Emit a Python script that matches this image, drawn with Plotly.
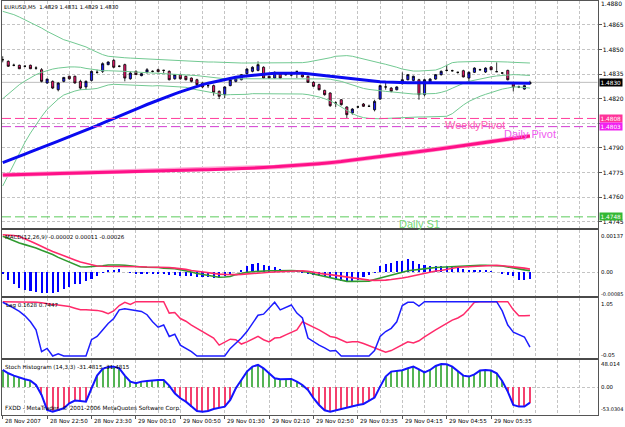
import plotly.graph_objects as go

W, H = 625, 427

# ---------------- data ----------------
time_labels = ["28 Nov 2007", "28 Nov 22:50", "28 Nov 23:30", "29 Nov 00:10", "29 Nov 00:50",
               "29 Nov 01:30", "29 Nov 02:10", "29 Nov 02:50", "29 Nov 03:35", "29 Nov 04:15",
               "29 Nov 04:55", "29 Nov 05:35"]
time_label_bars = [0, 8, 16, 24, 32, 40, 48, 56, 64, 72, 80, 88]

open_ = [1.48438, 1.48428, 1.48404, 1.48404, 1.48398, 1.48404, 1.48387, 1.48377, 1.48296, 1.48306,
         1.48255, 1.48306, 1.48337, 1.48337, 1.48306, 1.48272, 1.48312, 1.48361, 1.48367, 1.48408,
         1.48434, 1.48398, 1.48408, 1.48322, 1.48367, 1.48341, 1.48363, 1.48367, 1.48377, 1.48373,
         1.48367, 1.48322, 1.48347, 1.48337, 1.48326, 1.48316, 1.48296, 1.48280, 1.48280, 1.48245,
         1.48225, 1.48280, 1.48306, 1.48316, 1.48353, 1.48367, 1.48373, 1.48392, 1.48337, 1.48326,
         1.48351, 1.48347, 1.48345, 1.48367, 1.48347, 1.48337, 1.48300, 1.48286, 1.48251, 1.48235,
         1.48174, 1.48194, 1.48150, 1.48113, 1.48150, 1.48168, 1.48154, 1.48133, 1.48198, 1.48272,
         1.48265, 1.48255, 1.48292, 1.48316, 1.48312, 1.48316, 1.48225, 1.48296, 1.48320, 1.48347,
         1.48373, 1.48371, 1.48361, 1.48371, 1.48326, 1.48361, 1.48377, 1.48363, 1.48394, 1.48365,
         1.48357, 1.48373, 1.48292, 1.48272, 1.48259, 1.48290]
high = [1.48459, 1.48434, 1.48414, 1.48408, 1.48404, 1.48408, 1.48398, 1.48387, 1.48322, 1.48312,
        1.48300, 1.48333, 1.48341, 1.48341, 1.48316, 1.48312, 1.48373, 1.48377, 1.48422, 1.48428,
        1.48442, 1.48404, 1.48414, 1.48367, 1.48373, 1.48357, 1.48387, 1.48373, 1.48383, 1.48377,
        1.48373, 1.48351, 1.48353, 1.48341, 1.48330, 1.48322, 1.48300, 1.48296, 1.48286, 1.48251,
        1.48276, 1.48320, 1.48330, 1.48351, 1.48387, 1.48398, 1.48428, 1.48398, 1.48341, 1.48367,
        1.48357, 1.48353, 1.48351, 1.48367, 1.48353, 1.48341, 1.48306, 1.48292, 1.48255, 1.48239,
        1.48184, 1.48198, 1.48154, 1.48143, 1.48158, 1.48174, 1.48164, 1.48194, 1.48286, 1.48306,
        1.48272, 1.48276, 1.48361, 1.48351, 1.48341, 1.48322, 1.48322, 1.48326, 1.48351, 1.48373,
        1.48408, 1.48377, 1.48365, 1.48377, 1.48367, 1.48392, 1.48383, 1.48392, 1.48398, 1.48422,
        1.48363, 1.48377, 1.48296, 1.48280, 1.48286, 1.48310]
low = [1.48422, 1.48394, 1.48398, 1.48381, 1.48392, 1.48381, 1.48377, 1.48300, 1.48292, 1.48259,
       1.48245, 1.48300, 1.48316, 1.48292, 1.48255, 1.48255, 1.48306, 1.48353, 1.48357, 1.48404,
       1.48387, 1.48392, 1.48306, 1.48316, 1.48345, 1.48337, 1.48353, 1.48361, 1.48363, 1.48357,
       1.48312, 1.48316, 1.48316, 1.48312, 1.48300, 1.48280, 1.48265, 1.48265, 1.48219, 1.48198,
       1.48204, 1.48276, 1.48300, 1.48312, 1.48347, 1.48361, 1.48367, 1.48322, 1.48322, 1.48322,
       1.48322, 1.48341, 1.48337, 1.48326, 1.48330, 1.48296, 1.48272, 1.48251, 1.48219, 1.48150,
       1.48150, 1.48158, 1.48082, 1.48103, 1.48143, 1.48150, 1.48150, 1.48123, 1.48194, 1.48255,
       1.48239, 1.48251, 1.48286, 1.48312, 1.48306, 1.48194, 1.48215, 1.48292, 1.48316, 1.48341,
       1.48367, 1.48365, 1.48353, 1.48330, 1.48300, 1.48357, 1.48371, 1.48357, 1.48373, 1.48365,
       1.48351, 1.48312, 1.48245, 1.48265, 1.48255, 1.48290]
close = [1.48438, 1.48398, 1.48404, 1.48383, 1.48398, 1.48383, 1.48387, 1.48306, 1.48320, 1.48265,
         1.48296, 1.48330, 1.48322, 1.48296, 1.48265, 1.48306, 1.48367, 1.48361, 1.48414, 1.48424,
         1.48392, 1.48398, 1.48326, 1.48357, 1.48347, 1.48353, 1.48377, 1.48367, 1.48365, 1.48373,
         1.48316, 1.48347, 1.48322, 1.48316, 1.48306, 1.48286, 1.48272, 1.48280, 1.48239, 1.48215,
         1.48272, 1.48316, 1.48326, 1.48347, 1.48381, 1.48392, 1.48408, 1.48326, 1.48326, 1.48361,
         1.48326, 1.48347, 1.48345, 1.48367, 1.48333, 1.48300, 1.48276, 1.48255, 1.48225, 1.48158,
         1.48174, 1.48164, 1.48103, 1.48137, 1.48150, 1.48154, 1.48154, 1.48184, 1.48280, 1.48272,
         1.48245, 1.48272, 1.48316, 1.48347, 1.48337, 1.48225, 1.48316, 1.48320, 1.48347, 1.48367,
         1.48373, 1.48371, 1.48361, 1.48333, 1.48361, 1.48387, 1.48377, 1.48387, 1.48377, 1.48365,
         1.48357, 1.48316, 1.48272, 1.48272, 1.48280, 1.48300]

ma_blue = [1.47810, 1.47822, 1.47835, 1.47848, 1.47862, 1.47876, 1.47890, 1.47903, 1.47916, 1.47929,
           1.47942, 1.47955, 1.47968, 1.47981, 1.47994, 1.48007, 1.48021, 1.48036, 1.48051, 1.48066,
           1.48081, 1.48095, 1.48109, 1.48123, 1.48137, 1.48151, 1.48165, 1.48179, 1.48192, 1.48205,
           1.48218, 1.48230, 1.48242, 1.48254, 1.48266, 1.48276, 1.48286, 1.48295, 1.48303, 1.48311,
           1.48318, 1.48325, 1.48331, 1.48336, 1.48340, 1.48344, 1.48347, 1.48350, 1.48353, 1.48355,
           1.48356, 1.48357, 1.48357, 1.48357, 1.48356, 1.48353, 1.48349, 1.48345, 1.48341, 1.48337,
           1.48333, 1.48329, 1.48325, 1.48321, 1.48316, 1.48312, 1.48309, 1.48306, 1.48304, 1.48302,
           1.48300, 1.48299, 1.48298, 1.48298, 1.48298, 1.48298, 1.48298, 1.48298, 1.48298, 1.48298,
           1.48297, 1.48297, 1.48297, 1.48297, 1.48297, 1.48297, 1.48296, 1.48296, 1.48296, 1.48296,
           1.48296, 1.48295, 1.48295, 1.48295, 1.48295, 1.48295]
ma_pink = [1.47735, 1.47736, 1.47737, 1.47738, 1.47739, 1.47740, 1.47741, 1.47742, 1.47743, 1.47744,
           1.47745, 1.47747, 1.47748, 1.47749, 1.47750, 1.47751, 1.47752, 1.47753, 1.47754, 1.47754,
           1.47755, 1.47756, 1.47757, 1.47758, 1.47759, 1.47760, 1.47761, 1.47762, 1.47763, 1.47763,
           1.47764, 1.47764, 1.47765, 1.47765, 1.47766, 1.47766, 1.47767, 1.47767, 1.47768, 1.47768,
           1.47769, 1.47770, 1.47772, 1.47774, 1.47776, 1.47777, 1.47779, 1.47781, 1.47783, 1.47784,
           1.47786, 1.47788, 1.47790, 1.47792, 1.47795, 1.47798, 1.47801, 1.47804, 1.47807, 1.47809,
           1.47813, 1.47817, 1.47822, 1.47826, 1.47831, 1.47835, 1.47839, 1.47843, 1.47847, 1.47851,
           1.47855, 1.47860, 1.47864, 1.47868, 1.47872, 1.47877, 1.47881, 1.47885, 1.47890, 1.47895,
           1.47900, 1.47905, 1.47910, 1.47915, 1.47920, 1.47925, 1.47930, 1.47935, 1.47940, 1.47945,
           1.47950, 1.47955, 1.47960, 1.47964, 1.47968, 1.47973]

bb_upper = [1.48733, 1.48723, 1.48713, 1.48698, 1.48682, 1.48666, 1.48652, 1.48631, 1.48611, 1.48595,
            1.48576, 1.48560, 1.48550, 1.48540, 1.48528, 1.48516, 1.48499, 1.48483, 1.48469, 1.48459,
            1.48455, 1.48452, 1.48450, 1.48448, 1.48446, 1.48444, 1.48442, 1.48440, 1.48438, 1.48436,
            1.48434, 1.48432, 1.48430, 1.48428, 1.48428, 1.48426, 1.48426, 1.48424, 1.48424, 1.48422,
            1.48422, 1.48420, 1.48420, 1.48418, 1.48418, 1.48418, 1.48418, 1.48418, 1.48418, 1.48418,
            1.48418, 1.48418, 1.48418, 1.48418, 1.48420, 1.48424, 1.48430, 1.48436, 1.48442, 1.48450,
            1.48459, 1.48463, 1.48463, 1.48459, 1.48450, 1.48442, 1.48434, 1.48426, 1.48418, 1.48410,
            1.48402, 1.48392, 1.48381, 1.48373, 1.48369, 1.48369, 1.48371, 1.48373, 1.48375, 1.48387,
            1.48406, 1.48420, 1.48424, 1.48426, 1.48428, 1.48428, 1.48428, 1.48428, 1.48428, 1.48428,
            1.48426, 1.48424, 1.48422, 1.48420, 1.48418, 1.48418]
bb_middle = [1.48200, 1.48229, 1.48259, 1.48286, 1.48308, 1.48328, 1.48347, 1.48361, 1.48373, 1.48381,
             1.48387, 1.48392, 1.48394, 1.48394, 1.48392, 1.48385, 1.48379, 1.48373, 1.48371, 1.48371,
             1.48371, 1.48369, 1.48367, 1.48365, 1.48363, 1.48361, 1.48361, 1.48359, 1.48359, 1.48357,
             1.48355, 1.48353, 1.48351, 1.48349, 1.48345, 1.48341, 1.48337, 1.48333, 1.48328, 1.48324,
             1.48322, 1.48322, 1.48322, 1.48322, 1.48322, 1.48324, 1.48324, 1.48324, 1.48324, 1.48324,
             1.48324, 1.48324, 1.48324, 1.48324, 1.48324, 1.48324, 1.48324, 1.48323, 1.48321, 1.48319,
             1.48314, 1.48306, 1.48295, 1.48284, 1.48273, 1.48263, 1.48257, 1.48252, 1.48248, 1.48245,
             1.48242, 1.48238, 1.48234, 1.48231, 1.48229, 1.48229, 1.48230, 1.48231, 1.48232, 1.48239,
             1.48249, 1.48264, 1.48281, 1.48294, 1.48306, 1.48314, 1.48321, 1.48327, 1.48334, 1.48339,
             1.48343, 1.48345, 1.48347, 1.48346, 1.48344, 1.48342]
bb_lower = [1.47668, 1.47735, 1.47806, 1.47873, 1.47934, 1.47991, 1.48042, 1.48091, 1.48135, 1.48168,
            1.48198, 1.48223, 1.48237, 1.48247, 1.48255, 1.48255, 1.48259, 1.48263, 1.48274, 1.48284,
            1.48288, 1.48286, 1.48284, 1.48282, 1.48280, 1.48278, 1.48280, 1.48278, 1.48280, 1.48278,
            1.48276, 1.48274, 1.48272, 1.48270, 1.48261, 1.48255, 1.48247, 1.48241, 1.48233, 1.48227,
            1.48223, 1.48225, 1.48225, 1.48227, 1.48227, 1.48231, 1.48231, 1.48231, 1.48231, 1.48231,
            1.48231, 1.48231, 1.48231, 1.48231, 1.48229, 1.48225, 1.48219, 1.48211, 1.48200, 1.48188,
            1.48170, 1.48150, 1.48127, 1.48109, 1.48095, 1.48085, 1.48080, 1.48078, 1.48078, 1.48080,
            1.48082, 1.48085, 1.48087, 1.48089, 1.48089, 1.48089, 1.48089, 1.48089, 1.48089, 1.48091,
            1.48093, 1.48109, 1.48137, 1.48162, 1.48184, 1.48200, 1.48215, 1.48227, 1.48239, 1.48249,
            1.48259, 1.48265, 1.48272, 1.48272, 1.48270, 1.48265]

# MACD values in points (1 point = 0.00001)
macd_hist = [-9, -32, -45, -60, -69, -73, -77, -79, -79, -79, -77, -64, -58, -47, -45, -35, -28, -15, -3, 4,
             8, 13, 0, -3, -6, -9, -9, -9, -9, -9, -13, -13, -15, -15, -15, -19, -19, -19, -22, -24,
             -15, -9, 0, 6, 23, 29, 36, 27, 23, 19, 10, 6, 4, 4, -1, -6, -10, -15, -17, -24,
             -29, -36, -38, -33, -29, -20, -10, -1, 22, 31, 35, 41, 44, 50, 44, 31, 26, 22, 22, 22,
             22, 18, 15, 12, 9, 6, 5, 5, 3, 0, -4, -10, -17, -29, -32, -26]
macd_green = [137, 128, 120, 111, 105, 99, 92, 83, 76, 67, 56, 47, 37, 28, 20, 19, 20, 22, 24, 27,
              28, 27, 26, 23, 20, 19, 18, 18, 17, 15, 14, 13, 9, 5, 0, -6, -10, -13, -17, -20,
              -19, -17, -10, -5, -1, 1, 3, 4, 5, 5, 6, 6, 6, 5, 3, -1, -8, -13, -18, -23,
              -27, -32, -36, -36, -36, -36, -35, -29, -24, -19, -13, -8, -1, 5, 8, 10, 13, 15, 17, 18,
              20, 22, 23, 24, 26, 26, 26, 26, 26, 24, 23, 20, 17, 12, 8, 5]
macd_red = [143, 142, 140, 136, 128, 118, 108, 97, 88, 79, 70, 63, 54, 46, 38, 32, 27, 23, 22, 22,
            22, 22, 22, 20, 20, 20, 19, 19, 18, 18, 17, 15, 13, 10, 6, 3, -1, -4, -6, -8,
            -9, -10, -10, -9, -8, -6, -5, -3, -1, 0, 1, 3, 3, 4, 5, 3, -1, -5, -8, -10,
            -13, -15, -19, -23, -26, -28, -31, -32, -32, -31, -29, -27, -23, -19, -14, -9, -4, 0, 4, 6,
            10, 15, 18, 19, 20, 22, 23, 24, 26, 26, 24, 22, 19, 17, 15, 11]

lag_blue = [0.99, 0.94, 0.88, 0.82, 0.74, 0.63, 0.48, 0.08, 0.14, 0.0, 0.04, 0.0, 0.0, 0.0, 0.0, 0.0,
            0.30, 0.36, 0.48, 0.60, 0.69, 0.85, 0.87, 0.85, 0.84, 0.82, 0.76, 0.63, 0.53, 0.57, 0.36,
            0.40, 0.20, 0.14, 0.08, 0.0, 0.0, 0.0, 0.0, 0.0, 0.0, 0.14, 0.23, 0.33, 0.45, 0.60, 0.75,
            0.77, 0.88, 0.99, 0.85, 0.89, 0.94, 0.79, 0.70, 0.33, 0.26, 0.20, 0.15, 0.09, 0.10, 0.0,
            0.0, 0.0, 0.0, 0.0, 0.0, 0.10, 0.36, 0.45, 0.51, 0.63, 0.93, 0.99, 0.99, 0.92, 1.0, 1.0,
            1.0, 1.0, 1.0, 1.0, 1.0, 1.0, 1.0, 1.0, 1.0, 1.0, 1.0, 1.0, 0.83, 0.57, 0.44, 0.40, 0.35,
            0.1628]
lag_red = [1.0, 1.0, 1.0, 1.0, 1.0, 0.99, 0.99, 0.98, 0.96, 0.95, 0.94, 0.93, 0.91, 0.88, 0.85, 0.85,
           0.85, 0.84, 0.82, 0.78, 0.83, 0.93, 0.99, 0.95, 1.0, 1.0, 1.0, 1.0, 1.0, 1.0, 0.79,
           0.80, 0.69, 0.64, 0.57, 0.51, 0.45, 0.39, 0.33, 0.20, 0.26, 0.31, 0.30, 0.22, 0.26, 0.31,
           0.36, 0.30, 0.26, 0.33, 0.34, 0.39, 0.44, 0.48, 0.63, 0.58, 0.54, 0.48, 0.42, 0.36, 0.34,
           0.30, 0.25, 0.26, 0.26, 0.23, 0.19, 0.14, 0.11, 0.07, 0.10, 0.15, 0.20, 0.26, 0.24, 0.28,
           0.35, 0.42, 0.48, 0.54, 0.60, 0.66, 0.70, 0.76, 0.87, 0.99, 1.0, 1.0, 1.0, 1.0, 1.0, 1.0,
           0.85, 0.74, 0.74, 0.7447]

stoch = [35.5, 28.7, 23.9, 19.8, 16.4, 13.7, 4.8, -15.7, -46.4, -49.9, -46.4, -43.0, -32.8, -27.3, -28.0,
         -29.4, -2.0, 23.9, 37.6, 41.7, 42.3, 38.9, 23.9, 11.6, 8.2, 11.6, 13.0, 14.3, 15.0, 15.0,
         3.4, -12.3, -22.5, -29.4, -39.6, -48.5, -49.9, -48.5, -44.4, -41.7, -39.6, -26.0, -2.0, 15.0,
         32.1, 42.3, 45.8, 38.9, 28.7, 18.4, 16.4, 17.1, 17.1, 11.6, 4.8, -5.5, -22.5, -36.2, -47.1,
         -49.9, -47.1, -43.7, -41.7, -39.6, -36.2, -34.2, -28.0, -21.2, 1.4, 21.9, 32.1, 34.2, 34.8,
         38.9, 42.3, 36.9, 30.7, 35.5, 43.7, 47.8, 47.1, 42.3, 33.5, 23.9, 21.9, 26.6, 34.2, 35.5,
         34.2, 28.7, 13.0, -8.9, -36.2, -39.6, -39.6, -31.4815]

price_ticks = [1.4745, 1.4760, 1.4775, 1.4790, 1.4805, 1.4820, 1.4835, 1.4850, 1.4865]
hidden_price_ticks = [1.4805]          # covered by the pivot price boxes
top_price_label = "1.4880"
weekly_pivot = 1.4808
daily_pivot = 1.4803
daily_s1 = 1.4748
last_price = 1.4830
macd_levels = [137, 0, -85]
macd_level_text = ["0.00137", "0.00", "-0.00085"]
stoch_levels = [48.014, 0.0, -53.0304]
stoch_level_text = ["48.014", "0.00", "-53.0304"]
lag_level_text = ["1.05", "-0.05"]

bars = list(range(len(close)))

# ---------------- geometry helpers ----------------
def px_x(x):
    return x / W

def px_y(y):
    return 1 - y / H

XD = [px_x(2), px_x(597.5)]
XR = [-0.13, 107.17]
FONT = "DejaVu Sans"
GRID = "#c4c4c4"
BORDER = "#555555"

fig = go.Figure()

# ----- main panel -----
BB_C = "#72c992"
for arr in (bb_upper, bb_middle, bb_lower):
    fig.add_trace(go.Scatter(x=bars, y=arr, mode="lines", line=dict(color=BB_C, width=1),
                             xaxis="x", yaxis="y", hoverinfo="skip"))
fig.add_trace(go.Scatter(x=bars, y=ma_pink, mode="lines", line=dict(color="#ff9fd0", width=4.6),
                         xaxis="x", yaxis="y", hoverinfo="skip"))
fig.add_trace(go.Scatter(x=bars, y=ma_pink, mode="lines", line=dict(color="#ff1088", width=3),
                         xaxis="x", yaxis="y", hoverinfo="skip"))
fig.add_trace(go.Scatter(x=bars, y=ma_blue, mode="lines", line=dict(color="#0a0af0", width=3),
                         xaxis="x", yaxis="y", hoverinfo="skip"))
fig.add_trace(go.Candlestick(x=bars, open=open_, high=high, low=low, close=close,
                             increasing=dict(line=dict(color="#000000", width=0.8), fillcolor="#1a1aff"),
                             decreasing=dict(line=dict(color="#000000", width=0.8), fillcolor="#f0166e"),
                             whiskerwidth=0, xaxis="x", yaxis="y", hoverinfo="skip"))

# ----- MACD panel -----
fig.add_trace(go.Bar(x=bars, y=macd_hist, width=0.38, marker=dict(color="#0000ff", line=dict(width=0)),
                     xaxis="x2", yaxis="y2", hoverinfo="skip"))
fig.add_trace(go.Scatter(x=bars, y=macd_green, mode="lines", line=dict(color="#2f9a2f", width=1.6),
                         xaxis="x2", yaxis="y2", hoverinfo="skip"))
fig.add_trace(go.Scatter(x=bars, y=macd_red, mode="lines", line=dict(color="#ff2a6a", width=1.6),
                         xaxis="x2", yaxis="y2", hoverinfo="skip"))

# ----- Laguerre panel -----
fig.add_trace(go.Scatter(x=bars, y=lag_red, mode="lines", line=dict(color="#ff2a6a", width=1.5),
                         xaxis="x3", yaxis="y3", hoverinfo="skip"))
fig.add_trace(go.Scatter(x=bars, y=lag_blue, mode="lines", line=dict(color="#1c1cff", width=1.5),
                         xaxis="x3", yaxis="y3", hoverinfo="skip"))

# ----- Stoch histogram panel -----
stoch_colors = ["#55b455" if v >= 0 else "#f4406e" for v in stoch]
fig.add_trace(go.Bar(x=bars, y=stoch, width=0.22, marker=dict(color=stoch_colors, line=dict(width=0)),
                     xaxis="x4", yaxis="y4", hoverinfo="skip"))
fig.add_trace(go.Scatter(x=bars, y=stoch, mode="lines", line=dict(color="#1414ff", width=2),
                         xaxis="x4", yaxis="y4", hoverinfo="skip"))

# ---------------- axes ----------------
def xaxis(anchor, bottom=False):
    d = dict(domain=XD, range=XR, anchor=anchor, showticklabels=False, zeroline=False,
             showline=True, mirror=True, linecolor=BORDER, linewidth=1, fixedrange=True,
             showgrid=True, gridcolor=GRID, griddash="3px,2px", gridwidth=1,
             tickmode="linear", tick0=0, dtick=4, ticks="")
    if bottom:
        d.update(tickmode="array", tickvals=time_label_bars, ticks="outside", ticklen=3,
                 tickcolor=BORDER,
                 minor=dict(tickmode="linear", tick0=0, dtick=4, showgrid=True,
                            gridcolor=GRID, griddash="3px,2px", ticks=""))
    return d

def yaxis(anchor, dom, rng, **kw):
    d = dict(domain=dom, range=rng, anchor=anchor, side="right", zeroline=False,
             showline=True, mirror=True, linecolor=BORDER, linewidth=1, fixedrange=True,
             gridcolor=GRID, griddash="3px,2px", gridwidth=1)
    d.update(kw)
    return d

price_tick_text = ["" if v in hidden_price_ticks else "%.4f" % v for v in price_ticks]

layout = dict(
    width=W, height=H, autosize=False,
    margin=dict(l=0, r=0, t=0, b=0, pad=0),
    paper_bgcolor="white", plot_bgcolor="white",
    showlegend=False, boxgap=0.45, bargap=0,
    font=dict(family=FONT, size=6, color="black"),
    xaxis=dict(xaxis("y"), rangeslider=dict(visible=False)),
    xaxis2=xaxis("y2"),
    xaxis3=xaxis("y3"),
    xaxis4=xaxis("y4", bottom=True),
    yaxis=yaxis("x", [px_y(228), px_y(1)], [1.47412, 1.48796],
                tickmode="array", tickvals=price_ticks, ticktext=price_tick_text,
                ticks="outside", ticklen=3, tickcolor=BORDER,
                tickfont=dict(family=FONT, size=6, color="black"), showgrid=True),
    yaxis2=yaxis("x2", [px_y(296), px_y(230)], [-92, 161], tickmode="array", tickvals=[0],
                 showticklabels=False, showgrid=True, ticks=""),
    yaxis3=yaxis("x3", [px_y(358), px_y(298)], [-0.037, 1.068], showticklabels=False,
                 showgrid=False, ticks=""),
    yaxis4=yaxis("x4", [px_y(415), px_y(360)], [-56.8, 55.9], tickmode="array", tickvals=[0],
                 showticklabels=False, showgrid=True, ticks=""),
)

SEP = "#4a4a4a"
shapes = [
    dict(type="line", xref="x domain", x0=0, x1=1, yref="y", y0=last_price, y1=last_price,
         line=dict(color="#bdbdbd", width=1), layer="below"),
    dict(type="line", xref="x domain", x0=0, x1=1, yref="y", y0=weekly_pivot, y1=weekly_pivot,
         line=dict(color="#ff3c9c", width=1, dash="9px,4px")),
    dict(type="line", xref="x domain", x0=0, x1=1, yref="y", y0=daily_pivot, y1=daily_pivot,
         line=dict(color="#d23cd2", width=1, dash="9px,4px")),
    dict(type="line", xref="x domain", x0=0, x1=1, yref="y", y0=daily_s1, y1=daily_s1,
         line=dict(color="#5ccc5c", width=1, dash="9px,4px")),
]
# thick separators between the panes
for ysep in (229, 297, 359):
    shapes.append(dict(type="line", xref="paper", x0=XD[0], x1=XD[1], yref="paper",
                       y0=px_y(ysep), y1=px_y(ysep), line=dict(color=SEP, width=2.2)))
layout["shapes"] = shapes

ann = []
def txt(text, x, y, xref="paper", yref="paper", size=5.6, color="black", xanchor="left",
        yanchor="middle", family=FONT, **kw):
    d = dict(text=text, x=x, y=y, xref=xref, yref=yref, showarrow=False, xanchor=xanchor,
             yanchor=yanchor, font=dict(family=family, size=size, color=color), borderpad=0)
    d.update(kw)
    ann.append(d)

# panel titles
txt("EURUSD,M5  1.4829 1.4831 1.4829 1.4830", px_x(3), px_y(7), size=5.3)
txt("MACD(12,26,9) -0.00002 0.00011 -0.00026", px_x(4), px_y(237), size=5.5)
txt("Lag 0.1628 0.7447", px_x(5), px_y(305), size=5.5)
txt("Stoch Histogram (14,3,3) -31.4815 -31.4815", px_x(4), px_y(367.5), size=5.6)
txt("FXDD - MetaTrader, © 2001-2006 MetaQuotes Software Corp.", px_x(4), px_y(408.5), size=5.7)

# time labels
for b, lab in zip(time_label_bars, time_labels):
    txt(lab, b, px_y(421), xref="x4", yref="paper", size=5.6, xshift=1.5)

# right-side labels
RX = px_x(600)
RS = 5.4
RS_LONG = 5.0
txt(top_price_label, RX, px_y(3.5), size=6)
for v, t in zip(macd_levels, macd_level_text):
    txt(t, RX, v, yref="y2", size=RS_LONG if len(t) > 7 else RS)
txt(lag_level_text[0], RX, px_y(304), size=RS)
txt(lag_level_text[1], RX, px_y(355), size=RS)
txt(stoch_level_text[0], RX, stoch_levels[0], yref="y4", size=RS)
txt(stoch_level_text[1], RX, stoch_levels[1], yref="y4", size=RS)
txt(stoch_level_text[2], RX, stoch_levels[2], yref="y4", yanchor="bottom", size=RS_LONG)

# price boxes
for v, bg in ((weekly_pivot, "#ff3399"), (daily_pivot, "#f020f0"), (daily_s1, "#34b834"),
              (last_price, "#000000")):
    txt("%.4f" % v, px_x(599), v, yref="y", size=5.8, color="white", bgcolor=bg, borderpad=0.5)

# object labels on chart
txt("WeeklyPivot", 79.5, weekly_pivot, xref="x", yref="y", yanchor="top", size=11,
    family="Liberation Sans", color="#ff5cb4")
txt("Daily Pivot", 90.1, daily_pivot, xref="x", yref="y", yanchor="top", size=11,
    family="Liberation Sans", color="#f05cf0")
txt("Daily S1", 71.2, daily_s1, xref="x", yref="y", yanchor="top", size=11,
    family="Liberation Sans", color="#74d874")

layout["annotations"] = ann
fig.update_layout(**layout)

fig.write_html("out.html")
